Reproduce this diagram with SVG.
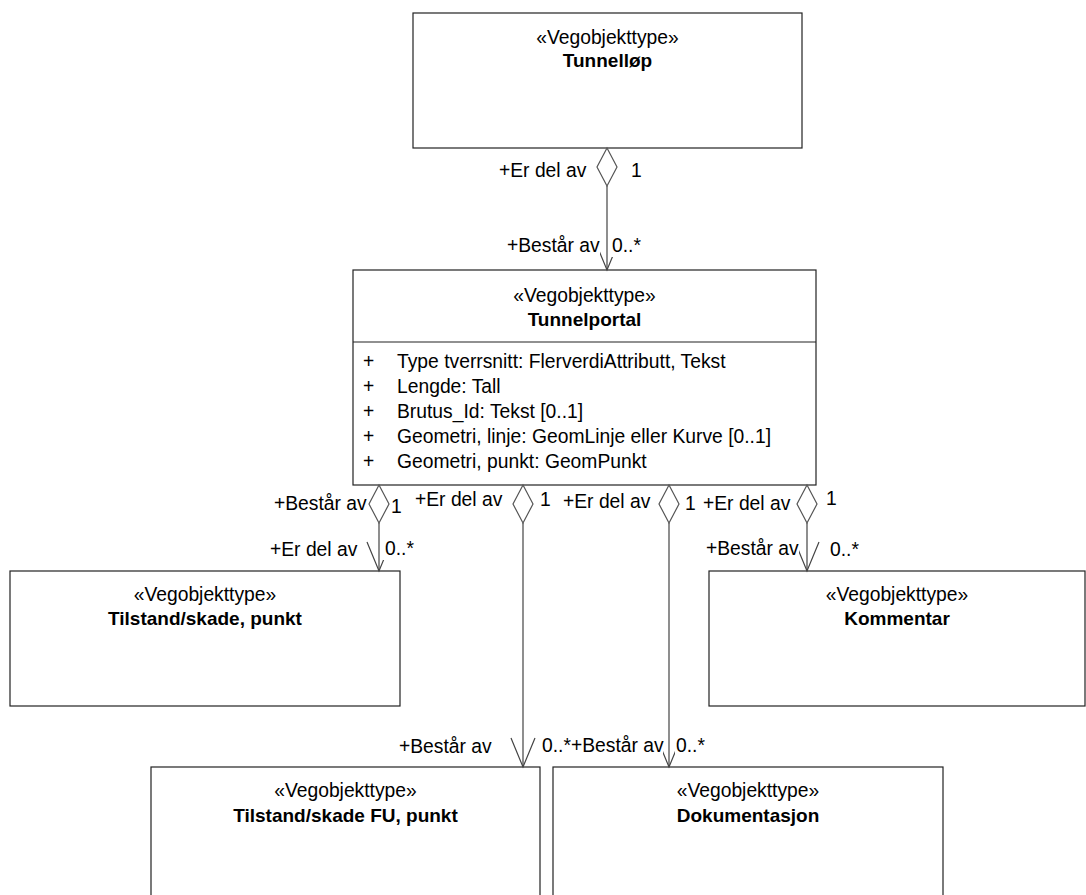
<svg xmlns="http://www.w3.org/2000/svg" width="1086" height="895" viewBox="0 0 1086 895">
<style>
text{font-family:"Liberation Sans",Arial,sans-serif;font-size:19.3px;fill:#000}
.name{font-weight:bold;font-size:19px}
.st{text-anchor:middle}
.box{fill:#fff;stroke:#222;stroke-width:1.2}
.ln{fill:none;stroke:#444;stroke-width:1.2}
.dia{fill:#fff;stroke:#555;stroke-width:1.2}
.bg{fill:#fff}
</style>
<rect width="1086" height="895" fill="#fff"/>
<g id="Tunnellop">
<rect class="box" x="413" y="13" width="389" height="135"/>
<text class="st" x="607.5" y="44">«Vegobjekttype»</text>
<text class="st name" x="607.5" y="67">Tunnelløp</text>
</g>
<g id="Tunnelportal">
<rect class="box" x="353" y="270" width="463" height="215"/>
<line x1="353" y1="342" x2="816" y2="342" stroke="#222" stroke-width="1.2"/>
<text class="st" x="584.5" y="302">«Vegobjekttype»</text>
<text class="st name" x="584.5" y="326">Tunnelportal</text>
<text x="363" y="368">+</text><text x="397" y="368">Type tverrsnitt: FlerverdiAttributt, Tekst</text>
<text x="363" y="393">+</text><text x="397" y="393">Lengde: Tall</text>
<text x="363" y="418">+</text><text x="397" y="418">Brutus_Id: Tekst [0..1]</text>
<text x="363" y="443">+</text><text x="397" y="443">Geometri, linje: GeomLinje eller Kurve [0..1]</text>
<text x="363" y="468">+</text><text x="397" y="468">Geometri, punkt: GeomPunkt</text>
</g>
<g id="TilstandSkadePunkt">
<rect class="box" x="10" y="571" width="390" height="135"/>
<text class="st" x="205" y="601">«Vegobjekttype»</text>
<text class="st name" x="205" y="625">Tilstand/skade, punkt</text>
</g>
<g id="Kommentar">
<rect class="box" x="709" y="571" width="376" height="135"/>
<text class="st" x="897" y="601">«Vegobjekttype»</text>
<text class="st name" x="897" y="625">Kommentar</text>
</g>
<g id="TilstandSkadeFU">
<rect class="box" x="151" y="767" width="389" height="140"/>
<text class="st" x="345.5" y="797">«Vegobjekttype»</text>
<text class="st name" x="345.5" y="822">Tilstand/skade FU, punkt</text>
</g>
<g id="Dokumentasjon">
<rect class="box" x="553" y="767" width="390" height="140"/>
<text class="st" x="748" y="797">«Vegobjekttype»</text>
<text class="st name" x="748" y="822">Dokumentasjon</text>
</g>
<g id="connectors">
<line class="ln" x1="607" y1="186" x2="607" y2="270"/>
<polyline class="ln" points="595,241 607,270 619,241"/>
<polygon class="dia" points="607,148 617,167 607,186 597,167"/>
<line class="ln" x1="379" y1="523" x2="379" y2="571"/>
<polyline class="ln" points="367,542 379,571 391,542"/>
<polygon class="dia" points="379,485 389,504 379,523 369,504"/>
<line class="ln" x1="523" y1="523" x2="523" y2="767"/>
<polyline class="ln" points="511,738 523,767 535,738"/>
<polygon class="dia" points="523,485 533,504 523,523 513,504"/>
<line class="ln" x1="669" y1="523" x2="669" y2="767"/>
<polyline class="ln" points="657,738 669,767 681,738"/>
<polygon class="dia" points="669,485 679,504 669,523 659,504"/>
<line class="ln" x1="807" y1="523" x2="807" y2="571"/>
<polyline class="ln" points="795,542 807,571 819,542"/>
<polygon class="dia" points="807,485 817,504 807,523 797,504"/>
</g>
<g id="labels">
<rect class="bg" x="498" y="160" width="89" height="22"/><text x="499" y="177">+Er del av</text>
<rect class="bg" x="630" y="160" width="12" height="22"/><text x="631" y="177">1</text>
<rect class="bg" x="506" y="235" width="94" height="22"/><text x="507" y="252">+Består av</text>
<rect class="bg" x="611" y="235" width="30" height="22"/><text x="612" y="252">0..*</text>

<rect class="bg" x="273" y="493" width="93" height="22"/><text x="274" y="510">+Består av</text>
<text x="391" y="513">1</text>
<rect class="bg" x="269" y="539" width="89" height="22"/><text x="270" y="556">+Er del av</text>
<rect class="bg" x="383" y="538" width="30" height="22"/><text x="385" y="555">0..*</text>

<text x="415" y="506">+Er del av</text>
<text x="540" y="506">1</text>

<text x="563" y="508">+Er del av</text>
<text x="685" y="510">1</text>

<text x="703" y="510">+Er del av</text>
<text x="826" y="505">1</text>
<rect class="bg" x="705" y="538" width="94" height="22"/><text x="706" y="555">+Består av</text>
<rect class="bg" x="829" y="539" width="30" height="22"/><text x="830" y="556">0..*</text>

<rect class="bg" x="398" y="736" width="94" height="22"/><text x="399" y="753">+Består av</text>
<rect class="bg" x="541" y="735" width="30" height="22"/><text x="542" y="752">0..*</text>
<rect class="bg" x="571" y="735" width="92" height="22"/><text x="571" y="752">+Består av</text>
<rect class="bg" x="675" y="735" width="30" height="22"/><text x="676" y="752">0..*</text>
</g>
</svg>
